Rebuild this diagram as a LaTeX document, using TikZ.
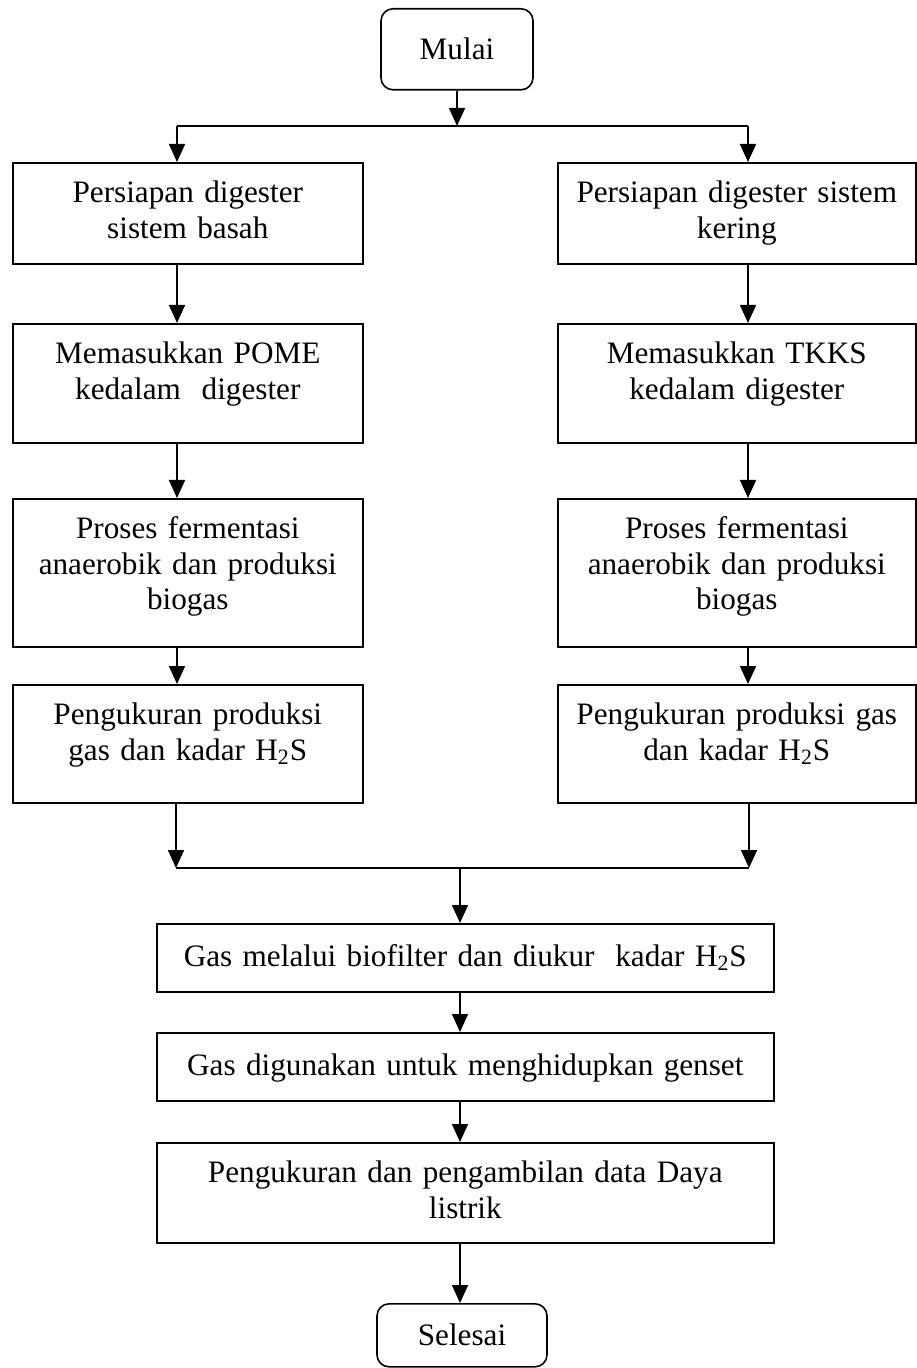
\documentclass[tikz,border=0pt]{standalone}
\usepackage{fontspec}
\setmainfont{Liberation Serif}
\usetikzlibrary{arrows.meta}

\begin{document}
\begin{tikzpicture}[x=0.5pt, y=-0.5pt, line width=0.8pt,
    font=\fontsize{15.6}{17.85}\selectfont,
    proses/.style={draw, anchor=north west, align=center, inner xsep=3pt, inner ysep=9.5pt, text height=10.3pt},
    kiri/.style={proses, minimum width=175pt, text width=169pt},
    kanan/.style={proses, minimum width=179pt, text width=173pt},
    lebar/.style={proses, minimum width=308.5pt, text width=302.5pt},
    satu/.style={inner ysep=11pt, text depth=1.7pt},
    ujung/.style={draw, rounded corners=6pt, anchor=north, inner sep=0pt},
    panah/.style={-{Triangle[length=9pt,width=8pt]}}]

    \useasboundingbox (0,0) rectangle (916,1368);

    % Mulai
    \node[ujung, minimum width=76pt, minimum height=40.5pt] (mulai) at (457,8) {Mulai};

    % Sistem basah
    \node[kiri, text depth=21.2pt] (basah1) at (12,162) {Persiapan digester\\sistem basah};
    \node[kiri, text depth=30.2pt] (basah2) at (12,323) {Memasukkan POME\\kedalam~ digester};
    \node[kiri, text depth=44.7pt] (basah3) at (12,498) {Proses fermentasi\\anaerobik dan produksi\\biogas};
    \node[kiri, text depth=29.7pt] (basah4) at (12,684) {Pengukuran produksi\\gas dan kadar H\textsubscript{2}S};

    % Sistem kering
    \node[kanan, text depth=21.2pt] (kering1) at (557,162) {Persiapan digester sistem\\kering};
    \node[kanan, text depth=30.2pt] (kering2) at (557,323) {Memasukkan TKKS\\kedalam digester};
    \node[kanan, text depth=44.7pt] (kering3) at (557,498) {Proses fermentasi\\anaerobik dan produksi\\biogas};
    \node[kanan, text depth=29.7pt] (kering4) at (557,684) {Pengukuran produksi gas\\dan kadar H\textsubscript{2}S};

    % Tahap akhir
    \node[lebar, satu] (gas1) at (156,923) {Gas melalui biofilter dan diukur~ kadar H\textsubscript{2}S};
    \node[lebar, satu] (gas2) at (156,1032) {Gas digunakan untuk menghidupkan genset};
    \node[lebar, text depth=20.7pt] (ukur) at (156,1142) {Pengukuran dan pengambilan data Daya\\listrik};
    \node[ujung, minimum width=85pt, minimum height=31.5pt] (selesai) at (462,1303) {Selesai};

    % Cabang atas
    \coordinate (cabangK) at (177,126);
    \coordinate (cabangN) at (748,126);
    \draw[panah] (mulai.south) -- (mulai.south |- cabangK);
    \draw (cabangK) -- (cabangN);
    \draw[panah] (cabangK) -- (cabangK |- basah1.north);
    \draw[panah] (cabangN) -- (cabangN |- kering1.north);

    % Alur kiri dan kanan
    \foreach \a/\b in {1/2, 2/3, 3/4} {
        \draw[panah] (basah\a.south -| cabangK) -- (basah\b.north -| cabangK);
        \draw[panah] (kering\a.south -| cabangN) -- (kering\b.north -| cabangN);
    }

    % Gabung
    \coordinate (gabungK) at (176,868);
    \coordinate (gabungN) at (749,868);
    \coordinate (temu) at (460,868);
    \draw[panah] (basah4.south -| gabungK) -- (gabungK);
    \draw[panah] (kering4.south -| gabungN) -- (gabungN);
    \draw (gabungK) -- (gabungN);
    \draw[panah] (temu) -- (temu |- gas1.north);
    \draw[panah] (gas1.south -| temu) -- (gas2.north -| temu);
    \draw[panah] (gas2.south -| temu) -- (ukur.north -| temu);
    \draw[panah] (ukur.south -| temu) -- (selesai.north -| temu);

\end{tikzpicture}
\end{document}
